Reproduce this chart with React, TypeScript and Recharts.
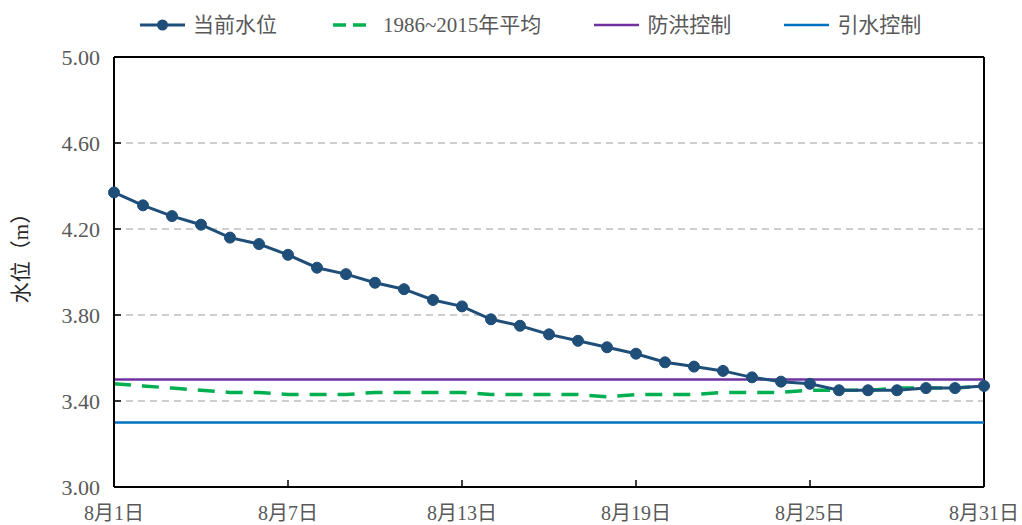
import { CartesianGrid, Line, LineChart, ReferenceLine, XAxis, YAxis } from "recharts";

const categories = [
  "8月1日", "8月2日", "8月3日", "8月4日", "8月5日", "8月6日", "8月7日", "8月8日",
  "8月9日", "8月10日", "8月11日", "8月12日", "8月13日", "8月14日", "8月15日", "8月16日",
  "8月17日", "8月18日", "8月19日", "8月20日", "8月21日", "8月22日", "8月23日", "8月24日",
  "8月25日", "8月26日", "8月27日", "8月28日", "8月29日", "8月30日", "8月31日",
];

// 当前水位
const currentLevel = [
  4.37, 4.31, 4.26, 4.22, 4.16, 4.13, 4.08, 4.02, 3.99, 3.95, 3.92, 3.87, 3.84, 3.78, 3.75, 3.71,
  3.68, 3.65, 3.62, 3.58, 3.56, 3.54, 3.51, 3.49, 3.48, 3.45, 3.45, 3.45, 3.46, 3.46, 3.47,
];

// 1986~2015年平均
const averageLevel = [
  3.48, 3.47, 3.46, 3.45, 3.44, 3.44, 3.43, 3.43, 3.43, 3.44, 3.44, 3.44, 3.44, 3.43, 3.43, 3.43,
  3.43, 3.42, 3.43, 3.43, 3.43, 3.44, 3.44, 3.44, 3.45, 3.45, 3.45, 3.46, 3.46, 3.46, 3.47,
];

const floodControl = 3.5;
const diversionControl = 3.3;

const yTicks = [3.0, 3.4, 3.8, 4.2, 4.6, 5.0];

const FONT = "'Liberation Serif', 'Noto Sans CJK SC', serif";
const TEXT = "#595959";
const C_CUR = "#1F4E79";
const C_AVG = "#00B050";
const C_FLOOD = "#7030A0";
const C_DIVERT = "#0070C0";

const rows = categories.map((day, i) => ({
  day,
  cur: currentLevel[i],
  avg: averageLevel[i],
}));

function XTick(props: any) {
  const { x, y, payload } = props;
  return (
    <g>
      <line x1={x} x2={x} y1={y} y2={y - 7} stroke="#000" strokeWidth={1.5} />
      <text
        x={x}
        y={y + 26}
        textAnchor="middle"
        dominantBaseline="central"
        fontSize={20}
        fontFamily={FONT}
        fill={TEXT}
      >
        {payload.value}
      </text>
    </g>
  );
}

function YTick(props: any) {
  const { x, y, payload } = props;
  return (
    <g>
      <line x1={x} x2={x + 7} y1={y} y2={y} stroke="#000" strokeWidth={1.5} />
      <text
        x={x - 14}
        y={y}
        textAnchor="end"
        dominantBaseline="central"
        fontSize={22}
        fontFamily={FONT}
        fill={TEXT}
      >
        {Number(payload.value).toFixed(2)}
      </text>
    </g>
  );
}

function YLabel(props: any) {
  const { viewBox } = props;
  const cx = viewBox.x + 21;
  const cy = viewBox.y + viewBox.height / 2 - 19;
  return (
    <text
      x={cx}
      y={cy}
      transform={`rotate(-90, ${cx}, ${cy})`}
      textAnchor="middle"
      dominantBaseline="central"
      fontSize={21}
      fontFamily={FONT}
      fill="#262626"
    >
      水位（m）
    </text>
  );
}

function LegendIcon({ kind, color }: { kind: "dot" | "dash" | "line"; color: string }) {
  return (
    <svg width={45} height={14} style={{ display: "block" }}>
      {kind === "dash" ? (
        <path d="M3 7 H36" stroke={color} strokeWidth={3.5} strokeDasharray="13 7" />
      ) : (
        <path d="M0 7 H45" stroke={color} strokeWidth={kind === "dot" ? 3 : 2.5} />
      )}
      {kind === "dot" && <circle cx={22.5} cy={7} r={5.5} fill={color} />}
    </svg>
  );
}

const legendItems: { name: string; kind: "dot" | "dash" | "line"; color: string }[] = [
  { name: "当前水位", kind: "dot", color: C_CUR },
  { name: "1986~2015年平均", kind: "dash", color: C_AVG },
  { name: "防洪控制", kind: "line", color: C_FLOOD },
  { name: "引水控制", kind: "line", color: C_DIVERT },
];

export default function App() {
  return (
    <div
      style={{
        position: "absolute",
        top: 0,
        left: 0,
        width: 1022,
        height: 525,
        background: "#fff",
        fontFamily: FONT,
      }}
    >
      <div
        style={{
          position: "absolute",
          top: 12,
          left: 140,
          display: "flex",
          alignItems: "center",
          gap: 53,
          fontSize: 21,
          lineHeight: "26px",
          color: TEXT,
          whiteSpace: "nowrap",
        }}
      >
        {legendItems.map((item) => (
          <div key={item.name} style={{ display: "flex", alignItems: "center", gap: 8 }}>
            <LegendIcon kind={item.kind} color={item.color} />
            <span>{item.name}</span>
          </div>
        ))}
      </div>
      <LineChart
        width={1022}
        height={525}
        data={rows}
        margin={{ top: 57, right: 38, bottom: 0, left: 0 }}
      >
        <CartesianGrid
          vertical={false}
          stroke="#BFBFBF"
          strokeWidth={1.5}
          strokeDasharray="7 5"
        />
        <XAxis
          dataKey="day"
          interval={5}
          height={38}
          tickSize={0}
          tickMargin={0}
          tickLine={false}
          axisLine={{ stroke: "#000", strokeWidth: 2 }}
          tick={<XTick />}
        />
        <YAxis
          type="number"
          domain={[3, 5]}
          ticks={yTicks}
          width={114}
          tickSize={0}
          tickMargin={0}
          tickLine={false}
          axisLine={{ stroke: "#000", strokeWidth: 2 }}
          tick={<YTick />}
          label={<YLabel />}
        />
        <ReferenceLine y={5} stroke="#000" strokeWidth={2} />
        <ReferenceLine x="8月31日" stroke="#000" strokeWidth={2} />
        <ReferenceLine y={diversionControl} stroke={C_DIVERT} strokeWidth={2.5} />
        <Line
          dataKey="avg"
          stroke={C_AVG}
          strokeWidth={3.5}
          strokeDasharray="17 11"
          dot={false}
          activeDot={false}
          isAnimationActive={false}
        />
        <ReferenceLine y={floodControl} stroke={C_FLOOD} strokeWidth={2.5} />
        <Line
          dataKey="cur"
          stroke={C_CUR}
          strokeWidth={3}
          dot={{ r: 5.5, fill: C_CUR, stroke: C_CUR, strokeWidth: 1 }}
          activeDot={false}
          isAnimationActive={false}
        />
      </LineChart>
    </div>
  );
}
